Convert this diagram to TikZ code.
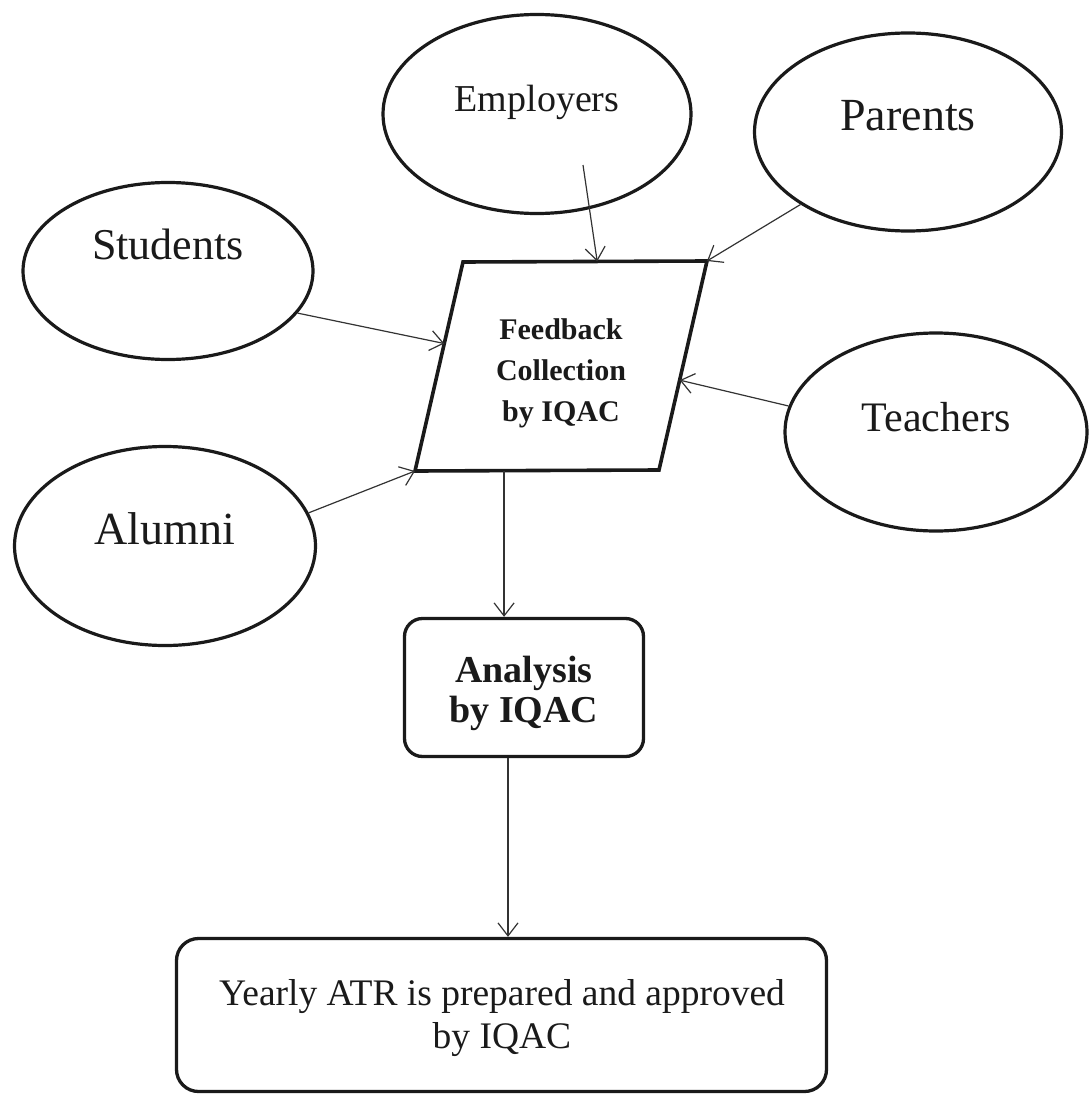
\documentclass[tikz,border=0pt]{standalone}
\usepackage{fontspec}
\setmainfont{Liberation Serif}
\usetikzlibrary{shapes.geometric,arrows.meta,calc}
\definecolor{ink}{HTML}{1A1A1A}
\definecolor{arrowink}{HTML}{333333}
\begin{document}
\begin{tikzpicture}[x=1pt,y=-1pt,
  ell/.style={ellipse, draw=ink, line width=3.2pt, inner sep=0pt, text height=0pt, text depth=0pt, text=ink},
  rbox/.style={draw=ink, line width=3.3pt, rounded corners=18pt, inner sep=0pt},
  arr/.style={draw=arrowink, line width=1.2pt, -{Straight Barb[length=13pt,width=20pt,line width=1.2pt]}},
  lbl/.style={text=ink, align=center, inner sep=0pt}
]
\useasboundingbox[fill=white] (0,0) rectangle (1089,1097);

% ellipses
\node[ell, minimum width=308pt, minimum height=199pt, font=\fontsize{38}{44}\selectfont, text depth=4pt] (em) at (537,114) {Employers};
\node[ell, minimum width=307pt, minimum height=198pt, font=\fontsize{46}{52}\selectfont, text depth=2pt] (pa) at (908,132) {Parents};
\node[ell, minimum width=290pt, minimum height=177pt, font=\fontsize{44}{50}\selectfont, text depth=24pt] (st) at (168,271) {Students};
\node[ell, minimum width=302pt, minimum height=198pt, font=\fontsize{42}{48}\selectfont, text depth=2pt] (te) at (936,432) {Teachers};
\node[ell, minimum width=301pt, minimum height=199pt, font=\fontsize{46}{52}\selectfont, text depth=4pt] (al) at (165,546) {Alumni};

% parallelogram
\coordinate (fbTL) at (463,262);
\coordinate (fbTR) at (707,261);
\coordinate (fbBR) at (659,470);
\coordinate (fbBL) at (415,471);
\draw[draw=ink, line width=3.6pt, line join=miter] (fbTL) -- (fbTR) -- (fbBR) -- (fbBL) -- cycle;
\node[lbl, font=\fontsize{30}{41}\selectfont\bfseries] (fb) at (561,373) {Feedback\\Collection\\by IQAC};

% boxes
\node[rbox, minimum width=239pt, minimum height=138pt] (an) at (524,687.5) {};
\node[lbl, font=\fontsize{38}{40}\selectfont\bfseries] (antxt) at (524,693) {Analysis\\by IQAC};
\node[rbox, rounded corners=22pt, minimum width=650pt, minimum height=153pt] (yr) at (501.5,1015) {};
\node[lbl, font=\fontsize{37.5}{43}\selectfont] (yrtxt) at (502,1018) {Yearly ATR is prepared and approved\\by IQAC};

% connectors
\draw[arr] ($(em.center)+(46,51)$) -- ($(fbTL)!0.55!(fbTR)$);
\draw[arr] (pa.214) -- (fbTR);
\draw[arr] (st.-18) -- ($(fbTL)!0.39!(fbBL)$);
\draw[arr] (te.170) -- ($(fbTR)!0.57!(fbBR)$);
\draw[arr] (al.13) -- (fbBL);
\coordinate (fbout) at ($(fbBL)!0.365!(fbBR)$);
\draw[arr] (fbout) -- (fbout |- an.north);
\coordinate (anout) at ($(an.south)+(-16,0)$);
\draw[arr] (anout) -- (anout |- yr.north);
\end{tikzpicture}
\end{document}
